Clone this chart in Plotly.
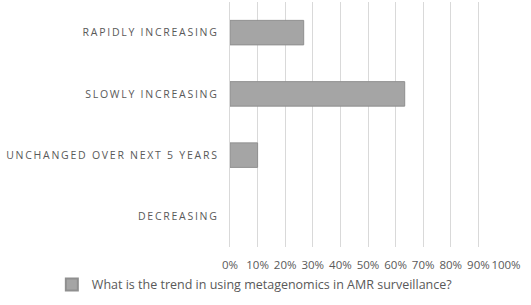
import plotly.graph_objects as go

categories = ["DECREASING", "UNCHANGED OVER NEXT 5 YEARS", "SLOWLY INCREASING", "RAPIDLY INCREASING"]
values = [0.0, 10.0, 63.3, 26.7]
series_name = "What is the trend in using metagenomics in AMR surveillance?"
x_ticks = [0, 10, 20, 30, 40, 50, 60, 70, 80, 90, 100]
x_tick_labels = [f"{t}%" for t in x_ticks]

def spaced(s):
    words = s.split(" ")
    return "\u2009 \u2009".join("\u2009".join(list(w)) for w in words)

fig = go.Figure()
fig.add_trace(go.Bar(
    y=categories, x=values, orientation="h", name=series_name,
    marker=dict(color="#a5a5a5",
                line=dict(color="#8f8f8f", width=[0 if v == 0 else 1 for v in values])),
    showlegend=True,
))
fig.update_layout(
    width=531, height=305,
    margin=dict(l=230, r=25, t=2, b=58, autoexpand=False),
    paper_bgcolor="white", plot_bgcolor="white",
    bargap=0.6,
    font=dict(family="Open Sans", color="#595959", size=11),
    showlegend=True,
    legend=dict(orientation="h", x=0.09, xanchor="center",
                y=-0.155, yanchor="middle",
                font=dict(size=12.5, color="#595959"),
                itemwidth=30, itemsizing="constant"),
    xaxis=dict(range=[0, 100], tickvals=x_ticks, ticktext=x_tick_labels,
               showgrid=True, gridcolor="#d9d9d9", gridwidth=1,
               zeroline=False, showline=False, ticks="", tickangle=0,
               automargin=False, ticklabelstandoff=9,
               tickfont=dict(size=11.5, color="#595959"), fixedrange=True),
    yaxis=dict(categoryorder="array", categoryarray=categories,
               tickvals=categories, ticktext=[spaced(c) for c in categories],
               showline=True, linecolor="#d9d9d9", linewidth=1,
               showgrid=False, ticks="", ticklabelstandoff=10,
               automargin=False,
               tickfont=dict(size=10.5, color="#595959")),
)
fig.write_html("out.html", config={"displayModeBar": False},
               post_script="document.body.style.margin='0';document.body.style.overflow='hidden';")
